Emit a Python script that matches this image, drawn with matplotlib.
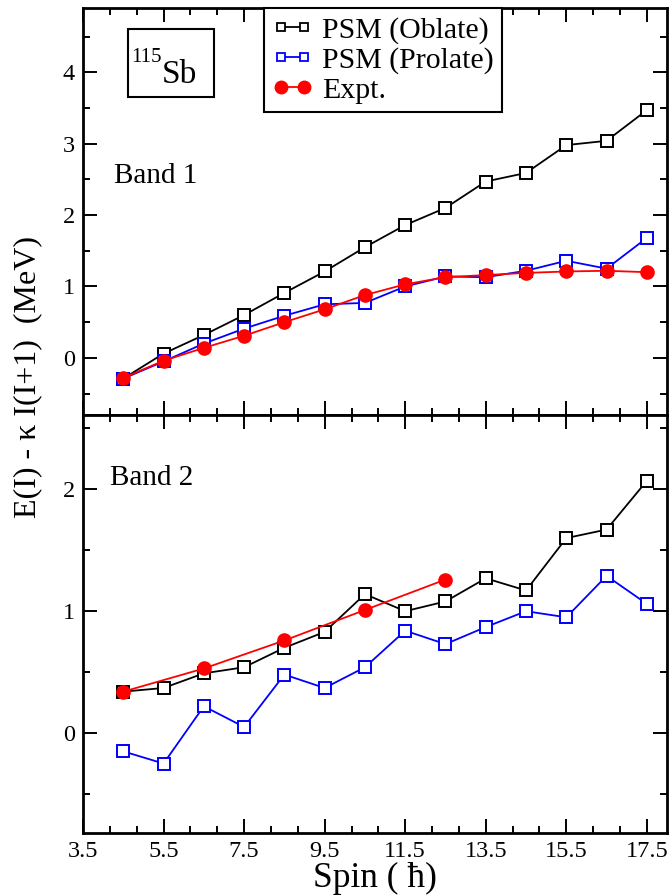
import numpy as np
import matplotlib
matplotlib.use("Agg")
import matplotlib.pyplot as plt
from matplotlib.lines import Line2D
from matplotlib.patches import Rectangle
from matplotlib.ticker import MultipleLocator, FixedLocator

plt.rcParams['font.family'] = ['Liberation Serif', 'DejaVu Serif']

# spin values
spin = [4.5, 5.5, 6.5, 7.5, 8.5, 9.5, 10.5, 11.5, 12.5, 13.5, 14.5, 15.5, 16.5, 17.5]
spin_expt2 = [4.5, 6.5, 8.5, 10.5, 12.5]

# Band 1
b1_oblate = [-0.29, 0.06, 0.32, 0.60, 0.91, 1.21, 1.55, 1.86, 2.10, 2.47, 2.59, 2.98, 3.04, 3.47]
b1_prolate = [-0.29, -0.05, 0.20, 0.41, 0.59, 0.75, 0.77, 1.00, 1.14, 1.13, 1.22, 1.36, 1.25, 1.68]
b1_expt = [-0.28, -0.04, 0.14, 0.31, 0.50, 0.68, 0.88, 1.03, 1.13, 1.16, 1.19, 1.21, 1.22, 1.20]

# Band 2
b2_oblate = [0.34, 0.37, 0.49, 0.54, 0.70, 0.83, 1.14, 1.00, 1.08, 1.27, 1.17, 1.60, 1.67, 2.07]
b2_prolate = [-0.15, -0.25, 0.22, 0.05, 0.48, 0.37, 0.54, 0.84, 0.73, 0.87, 1.00, 0.95, 1.29, 1.06]
b2_expt = [0.34, 0.53, 0.76, 1.01, 1.26]

x_ticks = [3.5, 5.5, 7.5, 9.5, 11.5, 13.5, 15.5, 17.5]

W, H = 670, 896
fig = plt.figure(figsize=(W / 100, H / 100), dpi=100)
left, right = 83 / W, 667 / W
ax1 = fig.add_axes([left, 1 - 415 / H, right - left, (415 - 8) / H])
ax2 = fig.add_axes([left, 1 - 833 / H, right - left, (833 - 415) / H])

sq = dict(marker='s', markersize=8, markerfacecolor='white', markeredgewidth=1.4, linewidth=1.3)
dot = dict(marker='o', markersize=9.5, linewidth=1.3)

for ax, ob, pr, ex_x, ex in [(ax1, b1_oblate, b1_prolate, spin, b1_expt),
                             (ax2, b2_oblate, b2_prolate, spin_expt2, b2_expt)]:
    ax.plot(spin, ob, color='black', markeredgecolor='black', **sq)
    ax.plot(spin, pr, color='blue', markeredgecolor='blue', **sq)
    ax.plot(ex_x, ex, color='red', markerfacecolor='red', markeredgecolor='red', **dot)
    ax.set_xlim(3.5, 18.0)
    ax.xaxis.set_major_locator(FixedLocator(x_ticks))
    ax.xaxis.set_minor_locator(FixedLocator(np.arange(3.5, 18.0, 2 / 3)))
    ax.yaxis.set_minor_locator(MultipleLocator(0.5))
    ax.yaxis.set_major_locator(MultipleLocator(1))
    ax.tick_params(which='both', direction='in', top=True, right=True, labelsize=17.5, width=1.4)
    ax.tick_params(which='major', length=10, pad=6)
    ax.tick_params(which='minor', length=5)
    for s in ax.spines.values():
        s.set_linewidth(2)

ax1.set_ylim(-0.8, 4.9)
ax2.set_ylim(-0.82, 2.61)
ax1.tick_params(labelbottom=False)
ax2.set_xticklabels([str(t) for t in x_ticks])

ax1.text(0.053, 0.57, 'Band 1', transform=ax1.transAxes, fontsize=21, va='baseline')
ax2.text(0.046, 0.833, 'Band 2', transform=ax2.transAxes, fontsize=21, va='baseline')

# 115Sb label in a box
ax1.add_patch(Rectangle((0.077, 0.781), 0.147, 0.167, transform=ax1.transAxes,
                        facecolor='white', edgecolor='black', linewidth=1.5, zorder=3))
ax1.text(0.1353, 0.8157, 'Sb', transform=ax1.transAxes, fontsize=24, va='baseline', zorder=4)
ax1.text(0.1353, 0.867, '115', transform=ax1.transAxes, fontsize=15, ha='right', va='baseline', zorder=4)

# legend proxies: smaller squares than in the plot, as in the original
handles = [
    Line2D([], [], color='black', marker='s', markersize=6, markerfacecolor='white', markeredgewidth=1.3, linewidth=1.3),
    Line2D([], [], color='blue', marker='s', markersize=6, markerfacecolor='white', markeredgewidth=1.3, linewidth=1.3),
    Line2D([], [], color='red', marker='o', markersize=9, linewidth=1.3),
]
labels = ['PSM (Oblate)', 'PSM (Prolate)', 'Expt.']
leg = ax1.legend(handles, labels, loc='upper left', bbox_to_anchor=(0.31, 1.0), fontsize=21.5, numpoints=2,
                 handlelength=1.35, handletextpad=0.3, labelspacing=0.1, borderpad=0.28,
                 borderaxespad=0, frameon=True, fancybox=False, framealpha=1)
leg.get_frame().set_edgecolor('black')
leg.get_frame().set_linewidth(1.5)

ax2.set_xlabel('Spin ( ħ)', fontsize=25.5, labelpad=0)
fig.text(0.041, 1 - 377 / H, 'E(I) - κ I(I+1)  (MeV)', rotation=90, fontsize=23,
         ha='center', va='center')

fig.savefig('out.png', dpi=100)
